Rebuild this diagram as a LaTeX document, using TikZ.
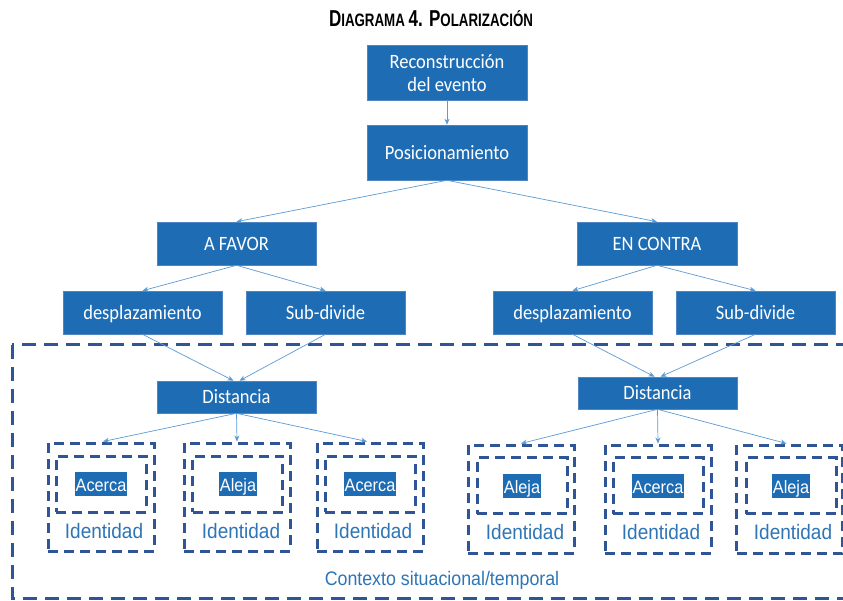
\documentclass[tikz,border=0pt]{standalone}
\usepackage{fontspec}
\setmainfont{Carlito}
\newfontfamily\titlefont{Liberation Sans}
\newfontfamily\arialfont{Liberation Sans}
\usetikzlibrary{arrows.meta}
\definecolor{boxblue}{HTML}{1E6DB4}
\definecolor{boxedge}{HTML}{4F86C2}
\definecolor{arrowblue}{HTML}{5B9BD5}
\definecolor{dashnavy}{HTML}{2F5597}
\definecolor{textblue}{HTML}{2E75B6}
\newcommand{\vstretch}[1]{\scalebox{1}[1.1]{#1}}
\newcommand{\twolines}[2]{\vstretch{\begin{tabular}{@{}c@{}}#1\\[-0.2pt]#2\end{tabular}}}
\tikzset{
  bluebox/.style={draw=boxedge, line width=0.6pt, fill=boxblue, text=white, inner sep=0pt,
    font=\fontsize{18.5}{21}\selectfont, align=center, text height=13.5pt, text depth=0pt},
  boxtext/.style={text=white, inner sep=0pt, font=\fontsize{18.5}{21}\selectfont, align=center},
  conn/.style={draw=arrowblue, line width=0.7pt, -{Stealth[length=6pt,width=5pt]}},
  outerdash/.style={draw=dashnavy, line width=3pt, dash pattern=on 10pt off 6pt, minimum width=106pt, minimum height=108pt, inner sep=0pt},
  innerdash/.style={draw=dashnavy, line width=3pt, dash pattern=on 10pt off 6pt, minimum width=90pt, minimum height=56pt, inner sep=0pt},
  hilite/.style={fill=boxblue, text=white, inner xsep=1pt, inner ysep=2pt, text height=17pt, text depth=3pt, font=\arialfont\fontsize{16.3}{19}\selectfont},
  identlbl/.style={text=textblue, inner sep=0pt, font=\arialfont\fontsize{19}{22}\selectfont},
  ctxlbl/.style={text=textblue, inner sep=0pt, font=\arialfont\fontsize{17.8}{21}\selectfont},
  bigdash/.style={draw=dashnavy, line width=3pt, dash pattern=on 14pt off 8pt},
}
\begin{document}
\begin{tikzpicture}[x=1pt,y=-1pt]
\useasboundingbox (0,0) rectangle (843,601);
\fill[white] (0,0) rectangle (843,601);
\begin{scope}
\clip (0,0) rectangle (843,601);
\draw[bigdash] (12,345) rectangle (860,598);
\end{scope}

% title
\node[inner sep=0pt] (title) at (431,19) {\titlefont\bfseries\scalebox{0.74}[1]{\fontsize{23}{23}\selectfont D\fontsize{18}{18}\selectfont IAGRAMA \fontsize{23}{23}\selectfont 4. P\fontsize{18}{18}\selectfont OLARIZACIÓN}};

% main boxes
\node[bluebox, minimum width=160pt, minimum height=55pt] (rec) at (447,72.5) {};
\node[boxtext] (rectext) at (447,75.5) {\twolines{Reconstrucción}{del evento}};
\node[bluebox, minimum width=160pt, minimum height=55pt] (pos) at (447,152.5) {\vstretch{Posicionamiento}};
\node[bluebox, minimum width=159pt, minimum height=43pt] (fav) at (236.5,243.5) {\vstretch{A FAVOR}};
\node[bluebox, minimum width=160pt, minimum height=43pt] (con) at (657,243.5) {\vstretch{EN CONTRA}};
\node[bluebox, minimum width=159pt, minimum height=43pt] (d1) at (142.5,312.5) {\vstretch{desplazamiento}};
\node[bluebox, minimum width=159pt, minimum height=43pt] (s1) at (325.5,312.5) {\vstretch{Sub-divide}};
\node[bluebox, minimum width=159pt, minimum height=43pt] (d2) at (572.5,312.5) {\vstretch{desplazamiento}};
\node[bluebox, minimum width=159pt, minimum height=43pt] (s2) at (755.5,312.5) {\vstretch{Sub-divide}};
\node[bluebox, minimum width=159pt, minimum height=32pt] (dist1) at (236.5,397) {\vstretch{Distancia}};
\node[bluebox, minimum width=159pt, minimum height=32pt] (dist2) at (657.5,393) {\vstretch{Distancia}};

% identity groups left
\node[outerdash] (o1) at (101,497) {};
\node[innerdash] (i1) at (101,484) {};
\node[hilite] (h1) at (101,484) {\vstretch{Acerca}};
\node[identlbl] (l1) at (104,531) {\vstretch{Identidad}};

\node[outerdash] (o2) at (237,497) {};
\node[innerdash] (i2) at (237.5,484) {};
\node[hilite] (h2) at (238,484) {\vstretch{Aleja}};
\node[identlbl] (l2) at (241,531) {\vstretch{Identidad}};

\node[outerdash] (o3) at (370,497) {};
\node[innerdash] (i3) at (370,484) {};
\node[hilite] (h3) at (370,484) {\vstretch{Acerca}};
\node[identlbl] (l3) at (373,531) {\vstretch{Identidad}};

% identity groups right
\node[outerdash] (o4) at (521,499) {};
\node[innerdash] (i4) at (522,485.5) {};
\node[hilite] (h4) at (522,486) {\vstretch{Aleja}};
\node[identlbl] (l4) at (525,532) {\vstretch{Identidad}};

\node[outerdash] (o5) at (658,499) {};
\node[innerdash] (i5) at (658,485.5) {};
\node[hilite] (h5) at (658,486) {\vstretch{Acerca}};
\node[identlbl] (l5) at (661,532) {\vstretch{Identidad}};

\node[outerdash] (o6) at (789.5,499) {};
\node[innerdash] (i6) at (791,485.5) {};
\node[hilite] (h6) at (791,486) {\vstretch{Aleja}};
\node[identlbl] (l6) at (793,532) {\vstretch{Identidad}};

\node[ctxlbl] (ctx) at (442,580) {\vstretch{Contexto situacional/temporal}};

% connectors
\draw[conn] (rec.south) -- (pos.north);
\draw[conn] (pos.south) -- (fav.north);
\draw[conn] (pos.south) -- (con.north);
\draw[conn] (fav.south) -- (d1.north);
\draw[conn] (fav.south) -- (s1.north);
\draw[conn] (con.south) -- (d2.north);
\draw[conn] (con.south) -- (s2.north);
\draw[conn] (d1.south) -- ([xshift=-3pt]dist1.north);
\draw[conn] (s1.south) -- ([xshift=3pt]dist1.north);
\draw[conn] (d2.south) -- ([xshift=-3pt]dist2.north);
\draw[conn] (s2.south) -- ([xshift=3pt]dist2.north);
\draw[conn] (dist1.south) -- ([xshift=2pt]o1.north);
\draw[conn] (dist1.south) -- (o2.north);
\draw[conn] (dist1.south) -- ([xshift=-3pt]o3.north);
\draw[conn] (dist2.south) -- (o4.north);
\draw[conn] (dist2.south) -- (o5.north);
\draw[conn] (dist2.south) -- ([xshift=-3pt]o6.north);
\end{tikzpicture}
\end{document}
